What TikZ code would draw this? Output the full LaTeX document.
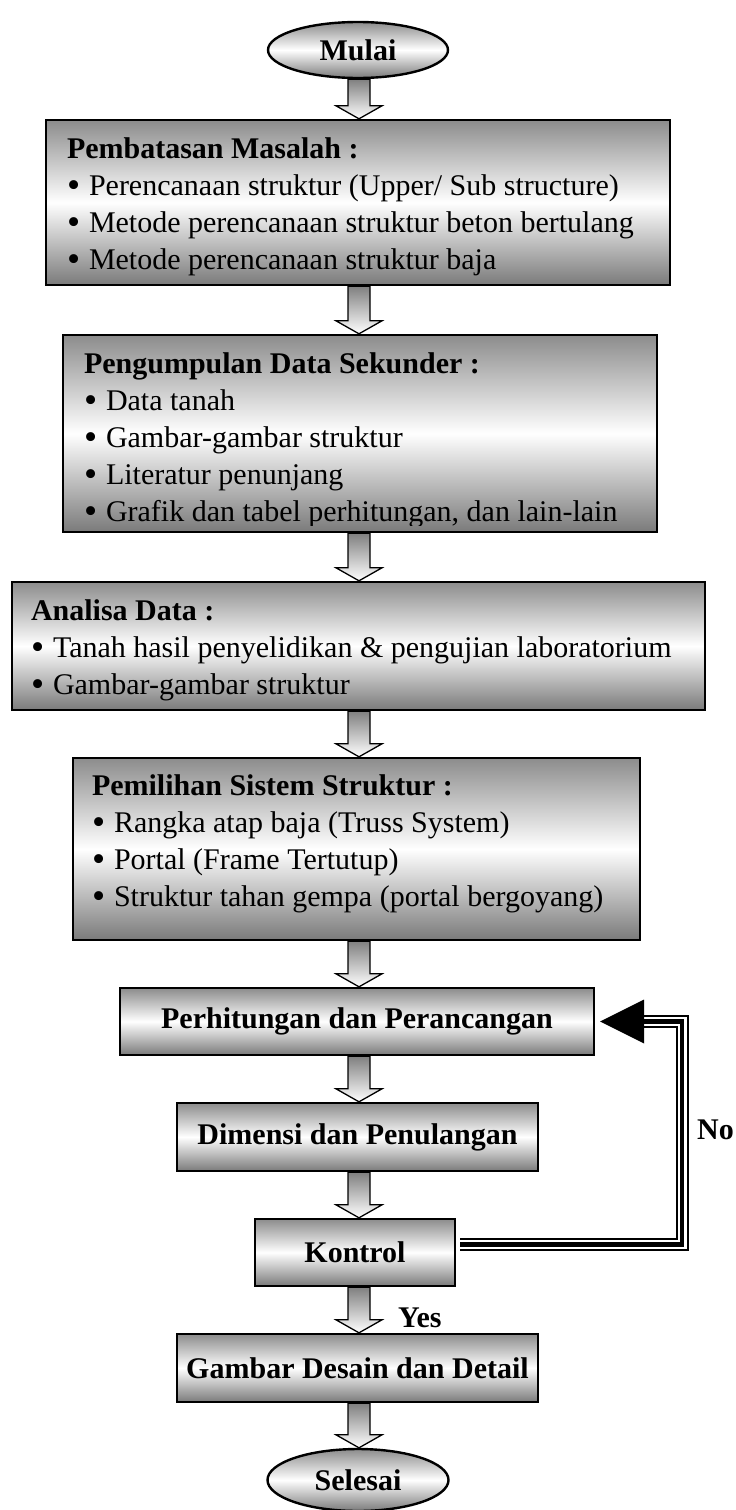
\documentclass[tikz,border=0pt]{standalone}
\usepackage{fontspec}
\usepackage{graphicx}
\setmainfont{Liberation Serif}
\usetikzlibrary{shapes.geometric}
\usetikzlibrary{calc}

\newcommand{\butir}{\makebox[22pt][l]{\raisebox{-1.5pt}{\scalebox{1.25}{•}}}}

\tikzset{
  kotak/.style={draw=black, line width=2.4pt, top color=black!45, bottom color=black!52, middle color=white, inner sep=0pt},
  judul/.style={kotak, font=\fontsize{30}{37}\selectfont\bfseries},
  ujung/.style={judul, ellipse},
  isi/.style={anchor=north west, inner sep=0pt, align=left, font=\fontsize{30}{37}\selectfont},
  panah/.style={draw=black, line width=1.3pt, top color=black!50, bottom color=white},
  garistiga/.style={draw=black, line width=13pt, postaction={draw=white, line width=9pt}, postaction={draw=black, line width=4.5pt}},
}

% panah blok dari node #1 ke node #2
\newcommand{\panahblok}[2]{%
  \path[panah] let \p1=(#1.south -| sumbu), \p2=(#2.north -| sumbu) in
    (\x1-11pt,\y1) -- (\x1-11pt,\y2+13pt) -- (\x1-23pt,\y2+13pt) -- (\x1,\y2)
    -- (\x1+23pt,\y2+13pt) -- (\x1+11pt,\y2+13pt) -- (\x1+11pt,\y1) -- cycle;}

\begin{document}
\begin{tikzpicture}[x=1pt, y=-1pt]
\useasboundingbox (0,0) rectangle (736,1510);
\coordinate (sumbu) at (359,0);

% Mulai
\node[ujung, minimum width=180pt, minimum height=56pt] (mulai) at (358,50) {Mulai};

% Pembatasan Masalah
\node[kotak, minimum width=624pt, minimum height=165pt] (batas) at (358,202.5) {};
\node[isi] (batasisi) at ($(batas.north west)+(22,19)$) {\textbf{Pembatasan Masalah :}\\
  \butir Perencanaan struktur (Upper/ Sub structure)\\
  \butir Metode perencanaan struktur beton bertulang\\
  \butir Metode perencanaan struktur baja};

% Pengumpulan Data Sekunder
\node[kotak, minimum width=594pt, minimum height=197pt] (data) at (360,433.5) {};
\begin{scope}
  \clip (data.north west) rectangle ($(data.south east)+(0,-8)$);
  \node[isi] (dataisi) at ($(data.north west)+(22,19)$) {\textbf{Pengumpulan Data Sekunder :}\\
    \butir Data tanah\\
    \butir Gambar-gambar struktur\\
    \butir Literatur penunjang\\
    \butir Grafik dan tabel perhitungan, dan lain-lain};
\end{scope}

% Analisa Data
\node[kotak, minimum width=693pt, minimum height=128pt] (analisa) at (358.5,646) {};
\node[isi] (analisaisi) at ($(analisa.north west)+(20,19)$) {\textbf{Analisa Data :}\\
  \butir Tanah hasil penyelidikan \& pengujian laboratorium\\
  \butir Gambar-gambar struktur};

% Pemilihan Sistem Struktur
\node[kotak, minimum width=567pt, minimum height=182pt] (sistem) at (356.5,849) {};
\node[isi] (sistemisi) at ($(sistem.north west)+(20,18)$) {\textbf{Pemilihan Sistem Struktur :}\\
  \butir Rangka atap baja (Truss System)\\
  \butir Portal (Frame Tertutup)\\
  \butir Struktur tahan gempa (portal bergoyang)};

% Kotak proses
\node[judul, minimum width=474pt, minimum height=67pt] (hitung) at (357,1021.5) {Perhitungan dan Perancangan};
\node[judul, minimum width=361pt, minimum height=68pt] (dimensi) at (357.5,1137) {Dimensi dan Penulangan};
\node[judul, minimum width=200pt, minimum height=67pt] (kontrol) at (355,1252.5) {Kontrol};
\node[judul, minimum width=361pt, minimum height=68pt] (gambar) at (357.5,1368) {Gambar Desain dan Detail};

% Selesai
\node[ujung, minimum width=181pt, minimum height=62pt] (selesai) at (358,1480) {Selesai};

% Panah blok
\panahblok{mulai}{batas}
\panahblok{batas}{data}
\panahblok{data}{analisa}
\panahblok{analisa}{sistem}
\panahblok{sistem}{hitung}
\panahblok{hitung}{dimensi}
\panahblok{dimensi}{kontrol}
\panahblok{kontrol}{gambar}
\panahblok{gambar}{selesai}

% Umpan balik (No)
\coordinate (sudut) at (682,0);
\coordinate (pangkal) at ($(hitung.east)+(49,0)$);
\draw[garistiga] ($(kontrol.east)+(4,-8)$) -| (sudut |- hitung.east) -- (pangkal);
\fill ($(hitung.east)+(5,0)$) -- ($(pangkal)+(0,-22)$) -- ($(pangkal)+(0,22)$) -- cycle;

% Label
\node[anchor=west, inner sep=0pt, font=\fontsize{30}{37}\selectfont\bfseries] (no) at (697,1130) {No};
\node[anchor=base west, inner sep=0pt, font=\fontsize{30}{37}\selectfont\bfseries] (yes) at (398,1327) {Yes};

\end{tikzpicture}
\end{document}
